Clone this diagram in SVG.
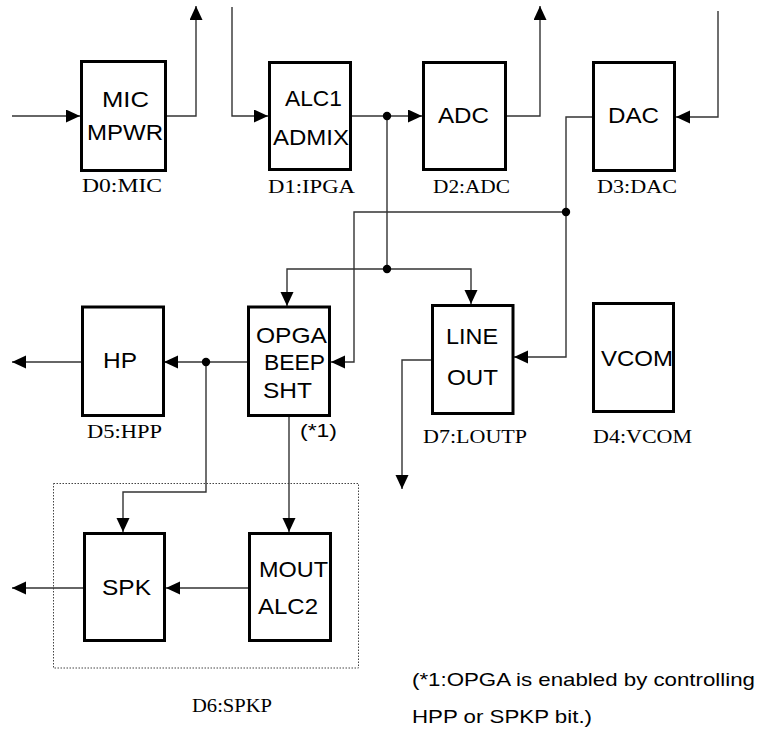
<svg xmlns="http://www.w3.org/2000/svg" width="762" height="736" viewBox="0 0 762 736">
<style>
.box{fill:#fff;stroke:#000;stroke-width:3}
.w{fill:none;stroke:#333;stroke-width:1.4}
.t{font-family:"Liberation Sans",Arial,sans-serif;font-size:22px;fill:#000;text-anchor:start}
.l{font-family:"Liberation Serif","Times New Roman",serif;font-size:18px;fill:#000}
.n{font-family:"Liberation Sans",Arial,sans-serif;font-size:19px;fill:#000}
</style>
<defs>
<marker id="ah" markerUnits="userSpaceOnUse" markerWidth="15" markerHeight="14" refX="14" refY="6.5" orient="auto">
<path d="M0,0 L14,6.5 L0,13 z" fill="#000"/>
</marker>
</defs>
<rect x="53.5" y="483.5" width="305" height="184.5" fill="none" stroke="#444" stroke-width="1" stroke-dasharray="1.5,1.5"/>
<g id="connectors">
<path class="w" d="M12,116 H80" marker-end="url(#ah)"/>
<path class="w" d="M166,116 H196 V6" marker-end="url(#ah)"/>
<path class="w" d="M232,7 V116 H268" marker-end="url(#ah)"/>
<path class="w" d="M352,116 H422" marker-end="url(#ah)"/>
<path class="w" d="M507,116 H540 V6" marker-end="url(#ah)"/>
<path class="w" d="M718,11 V117 H676" marker-end="url(#ah)"/>
<path class="w" d="M592,117 H566 V357 H514" marker-end="url(#ah)"/>
<path class="w" d="M566,212 H354 V362 H331" marker-end="url(#ah)"/>
<path class="w" d="M387,116 V269"/>
<path class="w" d="M387,269 H287 V306" marker-end="url(#ah)"/>
<path class="w" d="M387,269 H471 V304" marker-end="url(#ah)"/>
<path class="w" d="M247,362 H164" marker-end="url(#ah)"/>
<path class="w" d="M81,362 H12" marker-end="url(#ah)"/>
<path class="w" d="M206,362 V492 H123 V532" marker-end="url(#ah)"/>
<path class="w" d="M289,417 V532" marker-end="url(#ah)"/>
<path class="w" d="M248,588 H166" marker-end="url(#ah)"/>
<path class="w" d="M83,588 H12" marker-end="url(#ah)"/>
<path class="w" d="M431,360 H402 V489" marker-end="url(#ah)"/>
<circle cx="387" cy="116" r="4.2" fill="#000"/>
<circle cx="566" cy="212" r="4.2" fill="#000"/>
<circle cx="387" cy="269" r="4.2" fill="#000"/>
<circle cx="206" cy="362" r="4.2" fill="#000"/>
</g>
<g id="mic">
<rect class="box" x="81.5" y="61.5" width="84" height="109"/>
<text class="t" x="102" y="107" textLength="47" lengthAdjust="spacingAndGlyphs">MIC</text>
<text class="t" x="87" y="140" textLength="76" lengthAdjust="spacingAndGlyphs">MPWR</text>
<text class="l" x="82" y="192" textLength="80" lengthAdjust="spacingAndGlyphs">D0:MIC</text>
</g>
<g id="ipga">
<rect class="box" x="269.5" y="62.5" width="81" height="107"/>
<text class="t" x="285" y="106" textLength="57" lengthAdjust="spacingAndGlyphs">ALC1</text>
<text class="t" x="273" y="145" textLength="76" lengthAdjust="spacingAndGlyphs">ADMIX</text>
<text class="l" x="268" y="193" textLength="87" lengthAdjust="spacingAndGlyphs">D1:IPGA</text>
</g>
<g id="adc">
<rect class="box" x="423.5" y="62.5" width="82" height="107"/>
<text class="t" x="438" y="123" textLength="51" lengthAdjust="spacingAndGlyphs">ADC</text>
<text class="l" x="433" y="193" textLength="77" lengthAdjust="spacingAndGlyphs">D2:ADC</text>
</g>
<g id="dac">
<rect class="box" x="593.5" y="62.5" width="81" height="108"/>
<text class="t" x="608" y="123" textLength="51" lengthAdjust="spacingAndGlyphs">DAC</text>
<text class="l" x="597" y="193" textLength="80" lengthAdjust="spacingAndGlyphs">D3:DAC</text>
</g>
<g id="hp">
<rect class="box" x="82.5" y="307" width="81" height="108.5"/>
<text class="t" x="103" y="368" textLength="34" lengthAdjust="spacingAndGlyphs">HP</text>
<text class="l" x="87" y="438" textLength="75" lengthAdjust="spacingAndGlyphs">D5:HPP</text>
</g>
<g id="opga">
<rect class="box" x="248.5" y="307" width="81" height="108.5"/>
<text class="t" x="256" y="343" textLength="71" lengthAdjust="spacingAndGlyphs">OPGA</text>
<text class="t" x="264" y="370" textLength="61" lengthAdjust="spacingAndGlyphs">BEEP</text>
<text class="t" x="263" y="398" textLength="49" lengthAdjust="spacingAndGlyphs">SHT</text>
<text class="n" x="300" y="437" textLength="37" lengthAdjust="spacingAndGlyphs">(*1)</text>
</g>
<g id="lineout">
<rect class="box" x="432.5" y="305.5" width="80.5" height="108"/>
<text class="t" x="446" y="344" textLength="52" lengthAdjust="spacingAndGlyphs">LINE</text>
<text class="t" x="447" y="385" textLength="51" lengthAdjust="spacingAndGlyphs">OUT</text>
<text class="l" x="423" y="443" textLength="104" lengthAdjust="spacingAndGlyphs">D7:LOUTP</text>
</g>
<g id="vcom">
<rect class="box" x="593.5" y="303.5" width="80" height="108" stroke-width="2.5"/>
<text class="t" x="601" y="366" textLength="72" lengthAdjust="spacingAndGlyphs">VCOM</text>
<text class="l" x="593" y="443" textLength="99" lengthAdjust="spacingAndGlyphs">D4:VCOM</text>
</g>
<g id="spk">
<rect class="box" x="84.5" y="533.5" width="80" height="107"/>
<text class="t" x="102" y="595" textLength="49" lengthAdjust="spacingAndGlyphs">SPK</text>
</g>
<g id="mout">
<rect class="box" x="249.5" y="533.5" width="81" height="107"/>
<text class="t" x="259" y="577" textLength="69" lengthAdjust="spacingAndGlyphs">MOUT</text>
<text class="t" x="258" y="614" textLength="60" lengthAdjust="spacingAndGlyphs">ALC2</text>
</g>
<g id="spkp">
<text class="l" x="192" y="712" textLength="80" lengthAdjust="spacingAndGlyphs">D6:SPKP</text>
</g>
<g id="note">
<text class="n" x="412" y="686" textLength="343" lengthAdjust="spacingAndGlyphs">(*1:OPGA is enabled by controlling</text>
<text class="n" x="412" y="723" textLength="180" lengthAdjust="spacingAndGlyphs">HPP or SPKP bit.)</text>
</g>
</svg>
